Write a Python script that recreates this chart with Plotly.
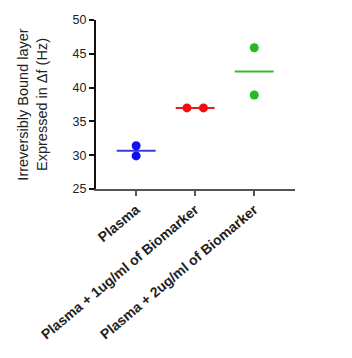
import plotly.graph_objects as go

categories = ["Plasma", "Plasma + 1ug/ml of Biomarker", "Plasma + 2ug/ml of Biomarker"]
values = [[31.4, 29.9], [37.0, 37.0], [45.9, 38.9]]
jitter = [[0.0, 0.0], [-0.14, 0.14], [0.0, 0.0]]
dot_colors = ["#1010ee", "#ee1010", "#22bb22"]
line_colors = ["#3a3adf", "#e02020", "#33bb33"]
y_ticks = [25, 30, 35, 40, 45, 50]

fig = go.Figure()
for i, cat in enumerate(categories):
    vals = values[i]
    mean = sum(vals) / len(vals)
    fig.add_trace(go.Scatter(
        x=[i - 0.33, i + 0.33], y=[mean, mean], mode="lines",
        line=dict(color=line_colors[i], width=2), showlegend=False, hoverinfo="skip"))
    fig.add_trace(go.Scatter(
        x=[i + j for j in jitter[i]], y=vals, mode="markers",
        marker=dict(color=dot_colors[i], size=9), showlegend=False))

font = "Liberation Sans, Arial, sans-serif"
fig.update_layout(
    width=352, height=358,
    margin=dict(l=96, r=57, t=20, b=169),
    paper_bgcolor="white", plot_bgcolor="white",
    font=dict(family=font, color="#222222", size=12),
    xaxis=dict(
        range=[-0.68, 2.69], tickvals=[0, 1, 2], ticktext=categories,
        tickangle=-40, showgrid=False, zeroline=False, automargin=False,
        showline=True, linecolor="#555555", linewidth=2,
        ticks="outside", ticklen=5, tickwidth=2, tickcolor="#555555",
        tickfont=dict(size=14, family=font, color="#222222", weight="bold")),
    yaxis=dict(
        range=[25, 50], tickvals=y_ticks, showgrid=False, zeroline=False,
        automargin=False,
        showline=True, linecolor="#111111", linewidth=2,
        ticks="outside", ticklen=5, tickwidth=1.5, tickcolor="#111111",
        tickfont=dict(size=12.5, family=font, color="#222222"),
        title=dict(text="Irreversibly Bound layer<br>Expressed in Δf (Hz)",
                   font=dict(size=14.5, family=font, color="#222222"), standoff=22)),
)

fig.write_html("out.html")
